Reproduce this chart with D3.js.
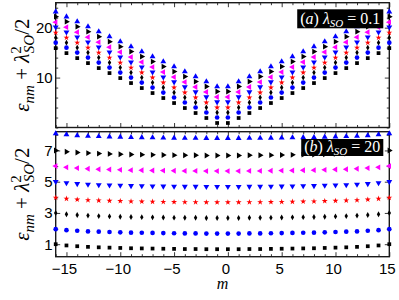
<!DOCTYPE html>
<html>
<head>
<meta charset="utf-8">
<script src="https://cdn.jsdelivr.net/npm/d3@7"></script>
<style>
body { margin: 0; background: #fff; }
</style>
</head>
<body>
<script>
// azimuthal quantum number m
const mVals = [-16,-15,-14,-13,-12,-11,-10,-9,-8,-7,-6,-5,-4,-3,-2,-1,0,1,2,3,4,5,6,7,8,9,10,11,12,13,14,15];

// (a) lambda_SO = 0.1
const topSquare  = [15.9,14.9,13.9,12.9,11.9,10.9,9.9,8.9,7.9,6.9,5.9,4.9,3.9,2.9,1.9,0.9,0.9,1.9,2.9,3.9,4.9,5.9,6.9,7.9,8.9,9.9,10.9,11.9,12.9,13.9,14.9,15.9];
const topCircle  = [17,16,15,14,13,12,11,10,9,8,7,6,5,4,3,2,2,3,4,5,6,7,8,9,10,11,12,13,14,15,16,17];
const topDiamond = [18,17,16,15,14,13,12,11,10,9,8,7,6,5,4,3,3,4,5,6,7,8,9,10,11,12,13,14,15,16,17,18];
const topStar    = [19,18,17,16,15,14,13,12,11,10,9,8,7,6,5,4,4,5,6,7,8,9,10,11,12,13,14,15,16,17,18,19];
const topDown    = [20.1,19.1,18.1,17.1,16.1,15.1,14.1,13.1,12.1,11.1,10.1,9.1,8.1,7.1,6.1,5.1,5.1,6.1,7.1,8.1,9.1,10.1,11.1,12.1,13.1,14.1,15.1,16.1,17.1,18.1,19.1,20.1];
const topLeft    = [21.1,20.1,19.1,18.1,17.1,16.1,15.1,14.1,13.1,12.1,11.1,10.1,9.1,8.1,7.1,6.1,6.1,7.1,8.1,9.1,10.1,11.1,12.1,13.1,14.1,15.1,16.1,17.1,18.1,19.1,20.1,21.1];
const topRight   = [22.2,21.2,20.2,19.2,18.2,17.2,16.2,15.2,14.2,13.2,12.2,11.2,10.2,9.2,8.2,7.2,7.2,8.2,9.2,10.2,11.2,12.2,13.2,14.2,15.2,16.2,17.2,18.2,19.2,20.2,21.2,22.2];
const topUp      = [23.2,22.2,21.2,20.2,19.2,18.2,17.2,16.2,15.2,14.2,13.2,12.2,11.2,10.2,9.2,8.2,8.2,9.2,10.2,11.2,12.2,13.2,14.2,15.2,16.2,17.2,18.2,19.2,20.2,21.2,22.2,23.2];

// (b) lambda_SO = 20
const botSquare  = [1.00,0.92,0.87,0.83,0.80,0.78,0.76,0.74,0.73,0.72,0.71,0.70,0.69,0.69,0.68,0.68,0.68,0.68,0.69,0.69,0.70,0.71,0.72,0.73,0.74,0.76,0.78,0.80,0.83,0.87,0.92,1.00];
const botCircle  = [1.96,1.90,1.86,1.82,1.80,1.78,1.76,1.74,1.73,1.72,1.71,1.70,1.69,1.69,1.68,1.68,1.68,1.68,1.69,1.69,1.70,1.71,1.72,1.73,1.74,1.76,1.78,1.80,1.82,1.86,1.90,1.96];
const botDiamond = [3.00,2.92,2.87,2.83,2.80,2.78,2.76,2.74,2.73,2.72,2.71,2.70,2.69,2.69,2.68,2.68,2.68,2.68,2.69,2.69,2.70,2.71,2.72,2.73,2.74,2.76,2.78,2.80,2.83,2.87,2.92,3.00];
const botStar    = [3.98,3.91,3.86,3.82,3.80,3.78,3.76,3.74,3.73,3.72,3.71,3.70,3.69,3.69,3.68,3.68,3.68,3.68,3.69,3.69,3.70,3.71,3.72,3.73,3.74,3.76,3.78,3.80,3.82,3.86,3.91,3.98];
const botDown    = [5.00,4.92,4.87,4.83,4.80,4.78,4.76,4.74,4.73,4.72,4.71,4.70,4.69,4.69,4.68,4.68,4.68,4.68,4.69,4.69,4.70,4.71,4.72,4.73,4.74,4.76,4.78,4.80,4.83,4.87,4.92,5.00];
const botLeft    = [6.00,5.92,5.87,5.83,5.80,5.78,5.76,5.74,5.73,5.72,5.71,5.70,5.69,5.69,5.68,5.68,5.68,5.68,5.69,5.69,5.70,5.71,5.72,5.73,5.74,5.76,5.78,5.80,5.83,5.87,5.92,6.00];
const botRight   = [7.00,6.92,6.87,6.83,6.80,6.78,6.76,6.74,6.73,6.72,6.71,6.70,6.69,6.69,6.68,6.68,6.68,6.68,6.69,6.69,6.70,6.71,6.72,6.73,6.74,6.76,6.78,6.80,6.83,6.87,6.92,7.00];
const botUp      = [8.08,8.01,7.96,7.92,7.90,7.88,7.86,7.84,7.83,7.82,7.81,7.80,7.79,7.79,7.78,7.78,7.78,7.78,7.79,7.79,7.80,7.81,7.82,7.83,7.84,7.86,7.88,7.90,7.92,7.96,8.01,8.08];

const xMajor = [-15,-10,-5,0,5,10,15];
const topMajor = [10,20];
const topMinor = [0,2,4,6,8,12,14,16,18,22,24];
const botMajor = [1,3,5,7];
const botMinor = [2,4,6,8];

// marker styles, in drawing order
const styles = [
  {type: d3.symbolSquare,   size: 14, fill: "#000",    rot: 0},
  {type: d3.symbolCircle,   size: 17, fill: "#0000ff", rot: 0},
  {type: d3.symbolDiamond,  size: 10, fill: "#000",    rot: 0},
  {type: d3.symbolStar,     size: 11, fill: "#ff0000", rot: 0},
  {type: d3.symbolTriangle, size: 15, fill: "#0000ff", rot: 180},
  {type: d3.symbolTriangle, size: 15, fill: "#ff00ff", rot: -90},
  {type: d3.symbolTriangle, size: 15, fill: "#000",    rot: 90},
  {type: d3.symbolTriangle, size: 15, fill: "#0000ff", rot: 0}
];

const W = 399, H = 300;
const left = 55.7, right = 389.3;

const svg = d3.select("body").append("svg")
  .attr("width", W)
  .attr("height", H);

const x = d3.scaleLinear().domain([-16, 15]).range([left, right]);

const panels = [
  {
    y: d3.scaleLinear().domain([0, 25]).range([127.5, 2.7]),
    series: [topSquare, topCircle, topDiamond, topStar, topDown, topLeft, topRight, topUp],
    major: topMajor, minor: topMinor, tag: "a", lam: "0.1", xlabels: false
  },
  {
    y: d3.scaleLinear().domain([0.2, 8.2]).range([256.7, 131.7]),
    series: [botSquare, botCircle, botDiamond, botStar, botDown, botLeft, botRight, botUp],
    major: botMajor, minor: botMinor, tag: "b", lam: "20", xlabels: true
  }
];

function styleAxis(g) {
  g.select(".domain").remove();
  g.selectAll(".tick line").attr("stroke", "#222").attr("stroke-width", 0.9);
  g.selectAll(".tick text")
    .attr("font-family", "'Liberation Sans', Arial, sans-serif")
    .attr("font-size", 15)
    .attr("fill", "#000");
}

panels.forEach(function(p) {
  const y0 = p.y.range()[0], y1 = p.y.range()[1];
  const g = svg.append("g");

  // ticks, pointing inward on all four sides
  const xMinorVals = mVals.filter(d => xMajor.indexOf(d) < 0);
  g.append("g").attr("transform", `translate(0,${y0})`)
    .call(d3.axisBottom(x).tickValues(xMinorVals).tickSize(-2.5).tickFormat(""))
    .call(styleAxis);
  g.append("g").attr("transform", `translate(0,${y0})`)
    .call(d3.axisBottom(x).tickValues(xMajor).tickSize(-4.5).tickPadding(6.5)
      .tickFormat(p.xlabels ? d3.format("d") : ""))
    .call(styleAxis)
    .call(a => a.selectAll(".tick text").attr("dx", -2.5));
  g.append("g").attr("transform", `translate(0,${y1})`)
    .call(d3.axisTop(x).tickValues(xMinorVals).tickSize(-2.5).tickFormat(""))
    .call(styleAxis);
  g.append("g").attr("transform", `translate(0,${y1})`)
    .call(d3.axisTop(x).tickValues(xMajor).tickSize(-4.5).tickFormat(""))
    .call(styleAxis);

  g.append("g").attr("transform", `translate(${left},0)`)
    .call(d3.axisLeft(p.y).tickValues(p.minor).tickSize(-2.5).tickFormat(""))
    .call(styleAxis);
  g.append("g").attr("transform", `translate(${left},0)`)
    .call(d3.axisLeft(p.y).tickValues(p.major).tickSize(-4.5).tickPadding(3).tickFormat(d3.format("d")))
    .call(styleAxis);
  g.append("g").attr("transform", `translate(${right},0)`)
    .call(d3.axisRight(p.y).tickValues(p.minor).tickSize(-2.5).tickFormat(""))
    .call(styleAxis);
  g.append("g").attr("transform", `translate(${right},0)`)
    .call(d3.axisRight(p.y).tickValues(p.major).tickSize(-4.5).tickFormat(""))
    .call(styleAxis);

  // box
  g.append("rect")
    .attr("x", left).attr("y", y1)
    .attr("width", right - left).attr("height", y0 - y1)
    .attr("fill", "none").attr("stroke", "#1a1a1a").attr("stroke-width", 1.4);

  // markers
  p.series.forEach(function(vals, i) {
    const s = styles[i];
    const sym = d3.symbol().type(s.type).size(s.size);
    g.append("g").selectAll("path")
      .data(vals)
      .enter()
      .append("path")
      .attr("d", sym)
      .attr("transform", (d, j) => `translate(${x(mVals[j])},${p.y(d)}) rotate(${s.rot})`)
      .attr("fill", s.fill);
  });

  // y label
  const yl = g.append("text")
    .attr("transform", `translate(29,${(y0 + y1) / 2}) rotate(-90)`)
    .attr("text-anchor", "middle")
    .attr("font-family", "'Liberation Serif', 'Times New Roman', serif")
    .attr("font-size", 21)
    .attr("fill", "#000");
  yl.append("tspan").attr("font-style", "italic").text("ε");
  yl.append("tspan").attr("font-style", "italic").attr("font-size", 15).attr("dy", 5).text("nm");
  yl.append("tspan").attr("dy", -5).text(" + ");
  yl.append("tspan").attr("font-style", "italic").text("λ");
  yl.append("tspan").attr("font-size", 15).attr("dy", -8).text("2");
  yl.append("tspan").attr("font-style", "italic").attr("font-size", 15).attr("dx", -7).attr("dy", 13).text("SO");
  yl.append("tspan").attr("dy", -5).text("/2");

  // panel tag in black box
  const tg = g.append("g");
  const tt = tg.append("text")
    .attr("x", right - 9)
    .attr("y", y1 + (p.tag === "a" ? 21.5 : 20))
    .attr("text-anchor", "end")
    .attr("font-family", "'Liberation Serif', 'Times New Roman', serif")
    .attr("font-size", 16)
    .attr("fill", "#fff");
  tt.append("tspan").text("(");
  tt.append("tspan").attr("font-style", "italic").text(p.tag);
  tt.append("tspan").text(") ");
  tt.append("tspan").attr("font-style", "italic").text("λ");
  tt.append("tspan").attr("font-style", "italic").attr("font-size", 11).attr("dy", 3).text("SO");
  tt.append("tspan").attr("dy", -3).text(" = " + p.lam);
  const bb = tt.node().getBBox();
  tg.insert("rect", "text")
    .attr("x", bb.x - 3).attr("y", y1 + (p.tag === "a" ? 6.6 : 7.3))
    .attr("width", bb.width + 6).attr("height", p.tag === "a" ? 19 : 17)
    .attr("fill", "#000");
});

// x label
svg.append("text")
  .attr("x", (left + right) / 2)
  .attr("y", 289)
  .attr("text-anchor", "middle")
  .attr("font-family", "'Liberation Serif', 'Times New Roman', serif")
  .attr("font-style", "italic")
  .attr("font-size", 16)
  .text("m");
</script>
</body>
</html>
